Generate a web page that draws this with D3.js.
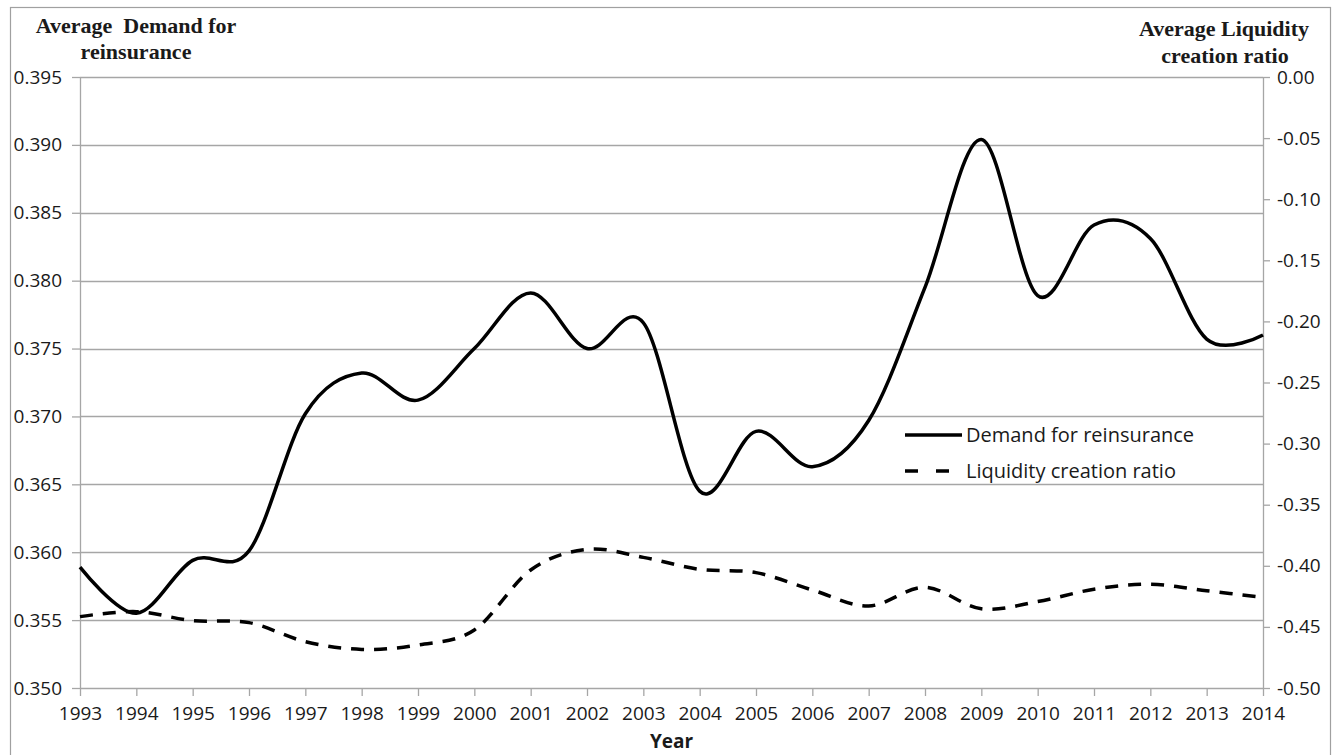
<!DOCTYPE html>
<html>
<head>
<meta charset="utf-8">
<script src="https://cdn.jsdelivr.net/npm/d3@7"></script>
<style>
  body { margin: 0; background: #fff; }
  svg { display: block; }
</style>
</head>
<body>
<script>
// yearly averages
var years = [1993, 1994, 1995, 1996, 1997, 1998, 1999, 2000, 2001, 2002, 2003,
             2004, 2005, 2006, 2007, 2008, 2009, 2010, 2011, 2012, 2013, 2014];
var demand = [0.3589, 0.3555, 0.3594, 0.3601, 0.3702, 0.3732, 0.3712, 0.3750, 0.3791, 0.3750, 0.3769,
              0.3645, 0.3689, 0.3663, 0.3697, 0.3795, 0.3904, 0.3789, 0.3841, 0.3831, 0.3757, 0.3760];
var liquidity = [-0.4416, -0.4375, -0.4449, -0.4465, -0.4621, -0.4684, -0.4648, -0.4525, -0.4034, -0.3865, -0.3931,
                 -0.4029, -0.4056, -0.4198, -0.4329, -0.4176, -0.4352, -0.4293, -0.4192, -0.4151, -0.4204, -0.4258];
var leftTicks = [0.350, 0.355, 0.360, 0.365, 0.370, 0.375, 0.380, 0.385, 0.390, 0.395];
var rightTicks = [0, -0.05, -0.10, -0.15, -0.20, -0.25, -0.30, -0.35, -0.40, -0.45, -0.50];
var seriesNames = ["Demand for reinsurance", "Liquidity creation ratio"];

var width = 1342, height = 755;
var plotLeft = 80, plotRight = 1263, plotTop = 77, plotBottom = 688;
var gridColor = "#a6a6a6";
var sans = "'Open Sans', sans-serif";

var svg = d3.select("body").append("svg")
    .attr("width", width)
    .attr("height", height);

// chart area border
svg.append("rect")
    .attr("x", 10.5).attr("y", 7.5)
    .attr("width", 1320).attr("height", 780)
    .attr("fill", "none")
    .attr("stroke", "#a0a0a0")
    .attr("stroke-width", 1.2);

var x = d3.scaleLinear().domain([1993, 2014]).range([plotLeft, plotRight]);
var yL = d3.scaleLinear().domain([0.350, 0.395]).range([plotBottom, plotTop]);
var yR = d3.scaleLinear().domain([-0.50, 0]).range([plotBottom, plotTop]);

// gridlines (left axis)
svg.append("g").selectAll("line")
    .data(leftTicks.slice(1))
    .enter().append("line")
    .attr("x1", plotLeft).attr("x2", plotRight)
    .attr("y1", function(d) { return Math.round(yL(d)) + 0.5; })
    .attr("y2", function(d) { return Math.round(yL(d)) + 0.5; })
    .attr("stroke", gridColor)
    .attr("stroke-width", 1.3);

var styleAxis = function(g) {
  g.select(".domain").attr("stroke", gridColor).attr("stroke-width", 1.3);
  g.selectAll(".tick line").attr("stroke", gridColor).attr("stroke-width", 1.3);
  g.selectAll(".tick text")
    .attr("fill", "#1a1a1a")
    .style("font-family", sans)
    .style("font-size", "19px");
};

var xAxis = svg.append("g")
    .attr("transform", "translate(0," + plotBottom + ")")
    .call(d3.axisBottom(x).tickValues(years).tickFormat(d3.format("d"))
      .tickSize(8).tickSizeOuter(0).tickPadding(6))
    .call(styleAxis);
xAxis.selectAll(".tick text").attr("dy", "0.95em");

var yAxisL = svg.append("g")
    .attr("transform", "translate(" + plotLeft + ",0)")
    .call(d3.axisLeft(yL).tickValues(leftTicks).tickFormat(d3.format(".3f"))
      .tickSize(8).tickSizeOuter(0).tickPadding(10))
    .call(styleAxis);

var yAxisR = svg.append("g")
    .attr("transform", "translate(" + plotRight + ",0)")
    .call(d3.axisRight(yR).tickValues(rightTicks)
      .tickFormat(function(d) { return d3.format(".2f")(d).replace("−", "-"); })
      .tickSize(7).tickSizeOuter(0).tickPadding(7))
    .call(styleAxis);

// series
var curve = d3.curveCardinal.tension(0);

var lineL = d3.line()
    .x(function(d, i) { return x(years[i]); })
    .y(function(d) { return yL(d); })
    .curve(curve);

var lineR = d3.line()
    .x(function(d, i) { return x(years[i]); })
    .y(function(d) { return yR(d); })
    .curve(curve);

svg.append("path")
    .datum(liquidity)
    .attr("d", lineR)
    .attr("fill", "none")
    .attr("stroke", "#000")
    .attr("stroke-width", 3.5)
    .attr("stroke-dasharray", "13,10");

svg.append("path")
    .datum(demand)
    .attr("d", lineL)
    .attr("fill", "none")
    .attr("stroke", "#000")
    .attr("stroke-width", 3.5);

// legend
var legend = svg.append("g");
legend.append("line")
    .attr("x1", 905).attr("x2", 962).attr("y1", 435).attr("y2", 435)
    .attr("stroke", "#000").attr("stroke-width", 3.5);
legend.append("line")
    .attr("x1", 905).attr("x2", 949).attr("y1", 471).attr("y2", 471)
    .attr("stroke", "#000").attr("stroke-width", 3.5)
    .attr("stroke-dasharray", "13,18");
legend.selectAll("text")
    .data(seriesNames)
    .enter().append("text")
    .attr("x", 966)
    .attr("y", function(d, i) { return i == 0 ? 442 : 478; })
    .attr("fill", "#1a1a1a")
    .style("font-family", sans)
    .style("font-size", "20px")
    .text(function(d) { return d; });

// axis titles
var serifBold = function(sel) {
  sel.style("font-family", "'Liberation Serif', 'Times New Roman', serif")
     .style("font-weight", "bold")
     .style("font-size", "22px")
     .attr("fill", "#1a1a1a")
     .attr("text-anchor", "middle");
};
svg.append("text").attr("x", 136).attr("y", 33).attr("xml:space", "preserve")
    .text("Average  Demand for").call(serifBold);
svg.append("text").attr("x", 136).attr("y", 59).text("reinsurance").call(serifBold);
svg.append("text").attr("x", 1224).attr("y", 36).text("Average Liquidity").call(serifBold);
svg.append("text").attr("x", 1225).attr("y", 63).text("creation ratio").call(serifBold);

svg.append("text")
    .attr("x", (plotLeft + plotRight) / 2)
    .attr("y", 748)
    .attr("text-anchor", "middle")
    .attr("fill", "#1a1a1a")
    .style("font-family", sans)
    .style("font-weight", "bold")
    .style("font-size", "19px")
    .text("Year");
</script>
</body>
</html>
